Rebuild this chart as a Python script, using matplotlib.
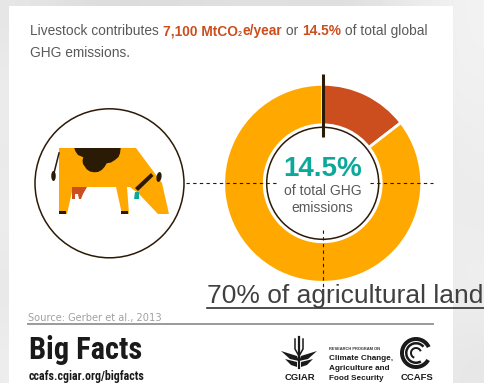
import numpy as np
import matplotlib
matplotlib.use('Agg')
from matplotlib import pyplot as plt
from matplotlib.patches import Circle, Ellipse, Polygon, Rectangle, Wedge

W, H = 485, 383

# share of global GHG emissions
share_labels = ['Livestock', 'Other sources']
share_values = [14.5, 85.5]
share_colors = ['#CC4E1E', '#FFA900']

headline_parts = [('Livestock contributes ', False), ('7,100 MtCO', True), ('2', True),
                  ('e/year', True), (' or ', False), ('14.5%', True), (' of total global', False)]
headline_second = 'GHG emissions.'
center_value = '14.5%'
center_caption = ['of total GHG', 'emissions']
land_label = '70% of agricultural land'
source_text = 'Source: Gerber et al., 2013'
brand_title = 'Big Facts'
brand_url = 'ccafs.cgiar.org/bigfacts'
program_lines = ['Climate Change,', 'Agriculture and', 'Food Security']

DARK = '#2B1A06'
GREY = '#58595B'
AMBER = '#FFA900'
RED = '#CC4E1E'
TEAL = '#0CA99A'
INK = '#1A1A1A'
SANS = ['Liberation Sans', 'DejaVu Sans']
NARROW = ['Roboto Condensed', 'Liberation Sans', 'DejaVu Sans']


def py(y):
    return H - y


def pts(seq):
    return [(x, py(y)) for x, y in seq]


fig = plt.figure(figsize=(W / 100, H / 100), dpi=100)
ax = fig.add_axes([0, 0, 1, 1])

# soft grey backdrop behind the white sheet
backdrop = np.array([[.90, .86, .86, .87, .88, .86, .90, .95],
                     [.93, .90, .92, .92, .92, .92, .93, .94],
                     [.91, .94, .95, .95, .95, .95, .88, .93],
                     [.93, .95, .95, .95, .95, .95, .95, .92],
                     [.90, .95, .95, .95, .95, .95, .90, .94],
                     [.93, .95, .95, .95, .95, .95, .94, .90]])
ax.imshow(backdrop, cmap='gray', vmin=0, vmax=1, extent=(0, W, 0, H), aspect='auto',
          interpolation='bicubic', zorder=0)
ax.add_patch(Rectangle((9, 0), 444, py(6), fc='white', ec='none', zorder=1))

# headline, pieced together so the bold parts keep their own colour
renderer = fig.canvas.get_renderer()
x_pos = 30
for part, bold in headline_parts:
    is_sub = part == '2'
    t = ax.text(x_pos, py(36 if is_sub else 35.2), part, fontsize=5 if is_sub else 9.95, family=SANS,
                fontweight='bold' if bold else 'normal', color=RED if bold else GREY,
                va='baseline', ha='left', zorder=3)
    # trailing spaces are not counted in the extent, so measure with a stand-in
    probe = ax.text(0, 0, part.replace(' ', '\u00a0'), fontsize=t.get_fontsize(), family=SANS,
                    fontweight=t.get_fontweight())
    x_pos += probe.get_window_extent(renderer).width + (0.6 if is_sub else 0)
    probe.remove()
ax.text(30, py(56.7), headline_second, fontsize=9.95, family=SANS, color=GREY, va='baseline', zorder=3)

# donut
cx, cy = 322.7, py(183.3)
ax.pie(share_values, colors=share_colors, startangle=90, counterclock=False, center=(cx, cy), radius=99,
       wedgeprops=dict(width=40.5, edgecolor='white', linewidth=2), frame=False)
ax.add_patch(Circle((cx, cy), 56, fc='white', ec=DARK, lw=1.1, zorder=4))
ax.plot([cx, cx], [py(74), py(137)], color=DARK, lw=2.2, solid_capstyle='butt', zorder=5)

# dashed connectors
dash = dict(color=DARK, lw=0.8, dashes=(3, 3), zorder=6)
ax.plot([186, 277], [cy, cy], **dash)
ax.plot([370, 433], [cy, cy], **dash)
ax.plot([cx, cx], [py(230), py(300)], **dash)

ax.text(cx, py(176.5), center_value, fontsize=20, fontweight='bold', family=SANS, color=TEAL,
        ha='center', va='baseline', zorder=7)
ax.text(cx, py(195), center_caption[0], fontsize=10, family=SANS, color=GREY,
        ha='center', va='baseline', zorder=7)
ax.text(cx, py(211.5), center_caption[1], fontsize=10, family=SANS, color=GREY,
        ha='center', va='baseline', zorder=7)

# cow
ax.add_patch(Circle((109.5, py(183.3)), 74.5, fc='white', ec=DARK, lw=1.1, zorder=2))
body = [(59, 148), (136, 148), (162, 183), (169, 214), (158, 214), (139, 194), (130, 187), (127, 187),
        (129, 214), (122, 214), (116, 187), (73, 187), (67, 214), (59, 214)]
ax.add_patch(Polygon(pts(body), fc=AMBER, ec='none', zorder=3))
spot = [(74.3, 148), (75.5, 151.5), (78, 155), (83.3, 157.3), (82.5, 160.5), (83, 164), (86.7, 169.3), (90, 171.5),
        (94, 172.3), (98, 172), (101.7, 170), (104.5, 167), (106.7, 163.3), (111, 162.5), (115, 160), (118.5, 157),
        (120, 153.3), (120.7, 148)]
ax.add_patch(Polygon(pts(spot), fc=DARK, ec='none', zorder=4))
ax.add_patch(Polygon(pts([(72, 187), (87, 187), (83, 194), (81, 199), (79, 199), (78, 194), (75, 194), (75, 199),
                          (72, 199)]), fc=RED, ec='none', zorder=4))
ax.add_patch(Polygon(pts([(135, 188), (151, 173), (153.5, 176), (138, 191)]), fc=DARK, ec='none', zorder=5))
ax.add_patch(Polygon(pts([(135, 192), (139, 192), (139, 199), (134, 199)]), fc=TEAL, ec='none', zorder=5))
ax.add_patch(Ellipse((159, py(177)), 5, 10, angle=-10, fc=DARK, ec='none', zorder=5))
ax.plot([59, 56, 54], [py(153), py(165), py(173)], color=DARK, lw=1.1, zorder=3)
ax.add_patch(Ellipse((53.5, py(176)), 4.5, 10, fc=DARK, ec='none', zorder=3))
ax.add_patch(Rectangle((59, py(214)), 7, 3, fc=DARK, ec='none', zorder=5))
ax.add_patch(Rectangle((121, py(214)), 7, 3, fc=DARK, ec='none', zorder=5))

# overlaid annotation
ax.text(207.5, py(303), land_label, fontsize=19, family=SANS, color='#404040', va='baseline', zorder=8)
ax.plot([207, 484], [py(307.5), py(307.5)], color='#303030', lw=1.2, zorder=8)

# footer
ax.text(28, py(320.5), source_text, fontsize=7.1, family='DejaVu Sans', color='#A0A0A0', va='baseline', zorder=3)
ax.plot([28, 433], [py(324), py(324)], color='#9A9A9A', lw=1.4, zorder=3)
ax.text(29, py(359), brand_title, fontsize=22, fontweight='bold', family=NARROW, color=INK,
        va='baseline', zorder=3)
ax.text(29, py(380), brand_url, fontsize=8.6, fontweight='bold', family=NARROW, color=INK,
        va='baseline', zorder=3)

# CGIAR mark
ax.plot([299, 299], [py(337), py(368)], color=INK, lw=1.6, zorder=3)
ax.plot([295, 295, 299], [py(339), py(349), py(356)], color=INK, lw=1.1, zorder=3)
ax.plot([303, 303, 299], [py(339), py(349), py(356)], color=INK, lw=1.1, zorder=3)
ax.add_patch(Polygon(pts([(281, 351), (297, 356), (299, 361), (290, 359)]), fc=INK, ec='none', zorder=3))
ax.add_patch(Polygon(pts([(317, 351), (301, 356), (299, 361), (308, 359)]), fc=INK, ec='none', zorder=3))
ax.add_patch(Polygon(pts([(285, 359), (297, 362), (297, 367), (291, 365)]), fc=INK, ec='none', zorder=3))
ax.add_patch(Polygon(pts([(313, 359), (301, 362), (301, 367), (307, 365)]), fc=INK, ec='none', zorder=3))
ax.text(300, py(380), 'CGIAR', fontsize=6.8, fontweight='bold', family=SANS, color=INK,
        ha='center', va='baseline', zorder=3)

# program text and CCAFS mark
ax.text(329, py(350), 'RESEARCH PROGRAM ON', fontsize=2.9, fontweight='bold', family=SANS, color='#333333',
        va='baseline', zorder=3)
for i, line in enumerate(program_lines):
    ax.text(329, py(359.5 + i * 10), line, fontsize=5.9, fontweight='bold', family=SANS, color=INK,
            va='baseline', zorder=3)
for r, wd, a1, a2 in [(16, 4, 25, 330), (11, 2.5, 40, 300), (6, 2, 20, 250)]:
    ax.add_patch(Wedge((416, py(353)), r, a1, a2, width=wd, fc=INK, ec='none', zorder=3))
ax.text(417.5, py(380), 'CCAFS', fontsize=6.8, fontweight='bold', family=SANS, color=INK,
        ha='center', va='baseline', zorder=3)

ax.set_xlim(0, W)
ax.set_ylim(0, H)
ax.set_aspect('auto')
ax.axis('off')
fig.savefig('out.png', dpi=100)
